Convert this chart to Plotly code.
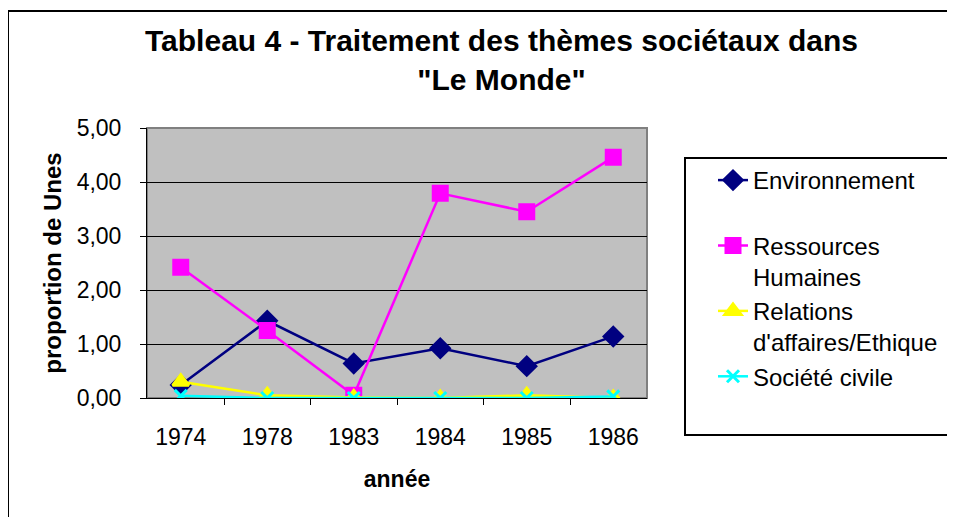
import plotly.graph_objects as go

annees = ["1974", "1978", "1983", "1984", "1985", "1986"]
environnement = [0.24, 1.43, 0.64, 0.92, 0.59, 1.14]
ressources_humaines = [2.42, 1.25, 0.05, 3.79, 3.45, 4.46]
relations_affaires = [0.30, 0.05, 0.01, 0.0, 0.05, 0.0]
societe_civile = [0.04, 0.0, 0.0, 0.0, 0.0, 0.03]

OFF = 8  # page body margin
W, H = 955 - OFF, 517 - OFF
L, R, T, B = 147, 647, 128, 398  # plot area, page pixels


def px_x(p):
    return (p - L) / (R - L)


def px_y(p):
    return (B - p) / (B - T)


fig = go.Figure()

series = [
    ("Environnement<br>&nbsp;", environnement, "#000080", "diamond", 14),
    ("Ressources<br>Humaines", ressources_humaines, "#FF00FF", "square", 14),
    ("Relations<br>d'affaires/Ethique", relations_affaires, "#FFFF00", "triangle-up", 14),
    ("Société civile", societe_civile, "#00FFFF", "x-thin", 12),
]

for name, vals, col, sym, size in series:
    fig.add_trace(go.Scatter(
        x=annees, y=vals, name=name, mode="lines+markers",
        line=dict(color=col, width=2.5),
        marker=dict(symbol=sym, size=size, color=col,
                    line=dict(color=col, width=3)),
    ))

font = "Liberation Sans, Arial, sans-serif"

fig.update_layout(
    width=W, height=H,
    margin=dict(l=L - OFF, r=W - (R - OFF), t=T - OFF, b=H - (B - OFF), pad=0),
    paper_bgcolor="white",
    plot_bgcolor="#C0C0C0",
    separators=",.",
    font=dict(family=font, size=24, color="black"),
    showlegend=True,
    legend=dict(
        x=px_x(713), y=px_y(158), xanchor="left", yanchor="top",
        valign="top", font=dict(size=24), tracegroupgap=0,
        bgcolor="rgba(0,0,0,0)", itemwidth=30,
    ),
    xaxis=dict(
        type="category", tickson="boundaries", ticks="outside", ticklen=6,
        tickcolor="black", showline=True, linecolor="black", linewidth=1,
        showgrid=False, tickfont=dict(size=23), ticklabelstandoff=18,
        title=dict(text="<b>année</b>", font=dict(size=23), standoff=22),
    ),
    yaxis=dict(
        range=[0, 5], dtick=1, tickformat=".2f", ticks="outside", ticklen=6,
        tickcolor="black", showline=True, linecolor="black", linewidth=1,
        showgrid=True, gridcolor="black", gridwidth=1, zeroline=False,
        tickfont=dict(size=23), ticklabelstandoff=14,
        title=dict(text="<b>proportion de Unes</b>", font=dict(size=24), standoff=8),
    ),
    annotations=[dict(
        text="<b>Tableau 4 - Traitement des thèmes sociétaux dans<br>\"Le Monde\"</b>",
        xref="paper", yref="paper", x=px_x(501), y=px_y(60),
        xanchor="center", yanchor="middle", showarrow=False,
        font=dict(size=30, family=font), align="center",
    )],
    shapes=[
        # outer chart border
        dict(type="rect", xref="paper", yref="paper",
             x0=px_x(8), x1=px_x(975), y0=px_y(540), y1=px_y(11),
             line=dict(color="black", width=2), layer="below"),
        # plot area border
        dict(type="rect", xref="paper", yref="paper",
             x0=0, x1=1, y0=0, y1=1,
             line=dict(color="#808080", width=2), layer="below"),
        # legend box
        dict(type="rect", xref="paper", yref="paper",
             x0=px_x(685), x1=px_x(975), y0=px_y(435), y1=px_y(158),
             line=dict(color="black", width=2)),
    ],
)

fig.write_html("out.html")
